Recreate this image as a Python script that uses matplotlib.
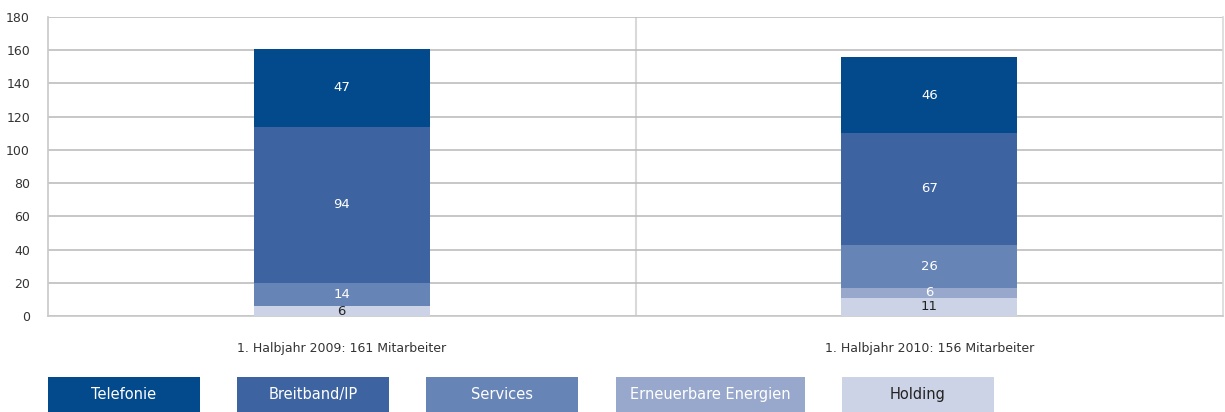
import matplotlib
matplotlib.use("Agg")
import matplotlib.pyplot as plt
from matplotlib.patches import Rectangle
from matplotlib import font_manager

names = {f.name for f in font_manager.fontManager.ttflist}
FONT = ['Liberation Sans Narrow', 'DejaVu Sans'] if 'Liberation Sans Narrow' in names else ['DejaVu Sans']
plt.rcParams['font.family'] = FONT

categories = ["1. Halbjahr 2009: 161 Mitarbeiter", "1. Halbjahr 2010: 156 Mitarbeiter"]
series_names = ["Telefonie", "Breitband/IP", "Services", "Erneuerbare Energien", "Holding"]
holding = [6, 11]
erneuerbare = [0, 6]
services = [14, 26]
breitband = [94, 67]
telefonie = [47, 46]
yticks = [0, 20, 40, 60, 80, 100, 120, 140, 160, 180]

colors = {
    "Telefonie": "#024A8C",
    "Breitband/IP": "#3D64A0",
    "Services": "#6784B6",
    "Erneuerbare Energien": "#97A8CC",
    "Holding": "#CDD3E6",
}
text_colors = {
    "Telefonie": "white",
    "Breitband/IP": "white",
    "Services": "white",
    "Erneuerbare Energien": "white",
    "Holding": "#222222",
}

W, H = 1225, 412
fig = plt.figure(figsize=(W / 100, H / 100), dpi=100)
ax = fig.add_axes([48 / W, (H - 316) / H, (1223 - 48) / W, (316 - 17) / H])

x = [0, 1]
stack = [("Holding", holding), ("Erneuerbare Energien", erneuerbare),
         ("Services", services), ("Breitband/IP", breitband), ("Telefonie", telefonie)]
bottom = [0, 0]
for name, vals in stack:
    ax.bar(x, vals, width=0.3, bottom=bottom, color=colors[name], zorder=3, linewidth=0)
    for xi, v, b in zip(x, vals, bottom):
        if v > 0:
            ax.text(xi, b + v / 2, str(v), ha="center", va="center",
                    color=text_colors[name], fontsize=9.5, zorder=4)
    bottom = [b + v for b, v in zip(bottom, vals)]

ax.set_xlim(-0.5, 1.5)
ax.set_ylim(0, 180)
ax.set_yticks(yticks)
ax.set_yticklabels([str(t) for t in yticks], fontsize=9, color="#333333")
ax.yaxis.grid(True, color="#BDBDBD", linewidth=1.2, zorder=0)
ax.axvline(0.5, color="#D9D9D9", linewidth=1.5, zorder=1)
ax.tick_params(axis="y", length=0, pad=13)
ax.set_xticks(x)
ax.set_xticklabels(categories, fontsize=9, color="#333333")
ax.tick_params(axis="x", length=0, pad=19)
for side in ["left", "right", "bottom", "top"]:
    ax.spines[side].set_color("#C8C8C8")
    ax.spines[side].set_linewidth(1.2)
ax.spines["top"].set_visible(False)
ax.spines["right"].set_color("#D9D9D9")

# legend boxes
lx = [48, 237, 426, 616, 842]
lw = [152, 152, 152, 189, 152]
for name, x0, w in zip(series_names, lx, lw):
    fig.patches.append(Rectangle((x0 / W, 0), w / W, 35 / H, transform=fig.transFigure,
                                 facecolor=colors[name], edgecolor="none"))
    fig.text((x0 + w / 2) / W, 17.5 / H, name, ha="center", va="center",
             color=text_colors[name], fontsize=10.5)

fig.savefig("out.png", dpi=100)
